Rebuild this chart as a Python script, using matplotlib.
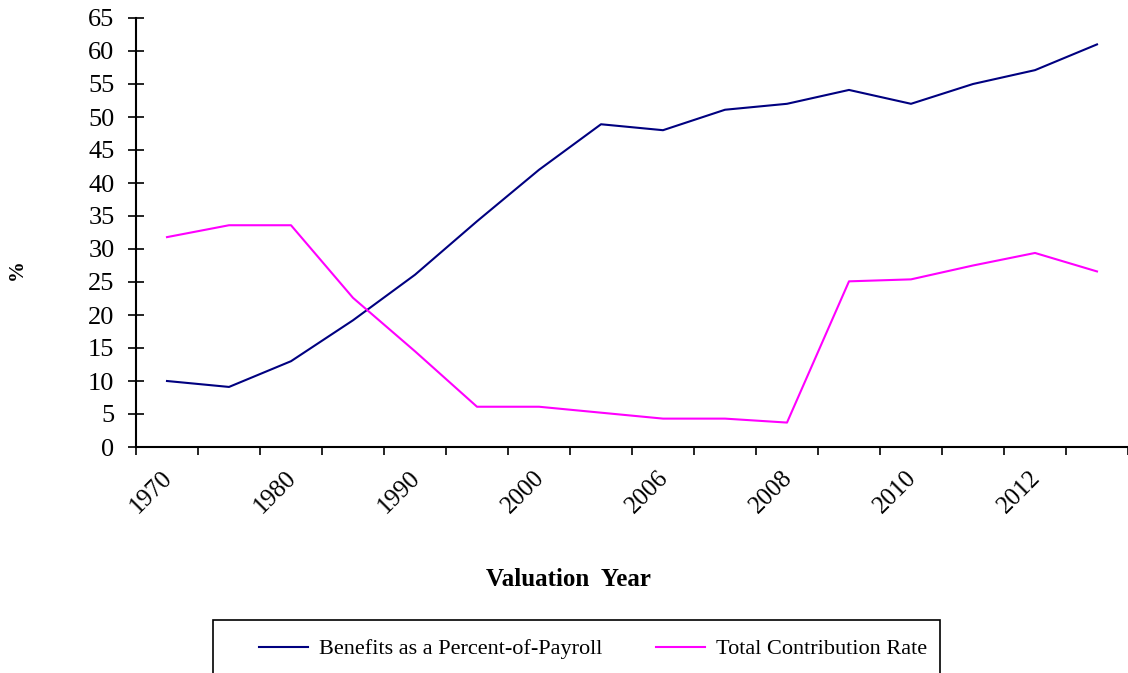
import matplotlib.pyplot as plt
from matplotlib.patches import Rectangle
from matplotlib.transforms import ScaledTranslation

plt.rcParams['font.family'] = ['Liberation Serif', 'DejaVu Serif']

# valuation years (only every other one is labelled on the axis)
years = ['1970', '1975', '1980', '1985', '1990', '1995', '2000', '2005',
         '2006', '2007', '2008', '2009', '2010', '2011', '2012', '2013']
benefits = [10.0, 9.1, 13.0, 19.2, 26.1, 34.2, 42.0, 48.9,
            48.0, 51.1, 52.0, 54.1, 52.0, 55.0, 57.1, 61.0]
contrib = [31.8, 33.6, 33.6, 22.6, 14.5, 6.1, 6.1, 5.2,
           4.3, 4.3, 3.7, 25.1, 25.4, 27.5, 29.4, 26.6]

W, H = 1128, 673
fig = plt.figure(figsize=(W / 100, H / 100), dpi=100)
ax = fig.add_axes([136 / W, 1 - 447 / H, (W - 136) / W, (447 - 18) / H])

x = list(range(len(years)))
l1, = ax.plot(x, benefits, color='#000080', lw=1.5, label='Benefits as a Percent-of-Payroll')
l2, = ax.plot(x, contrib, color='#FF00FF', lw=1.5, label='Total Contribution Rate')

ax.set_xlim(-0.5, len(years) - 0.5)
ax.set_ylim(0, 65)
ax.set_yticks(range(0, 66, 5))
ax.tick_params(axis='y', direction='inout', length=11, width=1.2, labelsize=19, pad=10)

# ticks on category boundaries, labels on every other category
ax.set_xticks([i - 0.5 for i in range(len(years) + 1)])
ax.set_xticklabels([])
ax.set_xticks(x[::2], minor=True)
ax.set_xticklabels(years[::2], minor=True, rotation=45, ha='right',
                   rotation_mode='anchor', fontsize=18)
ax.tick_params(axis='x', which='major', direction='out', length=6, width=1.2)
ax.tick_params(axis='x', which='minor', length=0, pad=14)
shift = ScaledTranslation(-6 / 100, 0, fig.dpi_scale_trans)
for lab in ax.get_xticklabels(minor=True):
    lab.set_transform(lab.get_transform() + shift)

for s in ['top', 'right']:
    ax.spines[s].set_visible(False)
for s in ['left', 'bottom']:
    ax.spines[s].set_linewidth(1.5)

fig.text(17 / W, 1 - 270 / H, '%', rotation=90, fontsize=15, fontweight='bold',
         ha='center', va='center')
fig.text(568 / W, 1 - 579 / H, 'Valuation  Year', fontsize=18, fontweight='bold',
         ha='center', va='center')

# legend box runs off the bottom of the picture
fig.patches.append(Rectangle((213 / W, 1 - 685 / H), (940 - 213) / W, (685 - 620) / H,
                             transform=fig.transFigure, fill=False, ec='black', lw=1.2))
fig.legend(handles=[l1, l2], loc='center left', bbox_to_anchor=(250 / W, 1 - 649 / H),
           ncol=2, frameon=False, fontsize=16, handlelength=2.2, handletextpad=0.5,
           columnspacing=2.43, borderaxespad=0)

fig.savefig('out.png', dpi=100)
